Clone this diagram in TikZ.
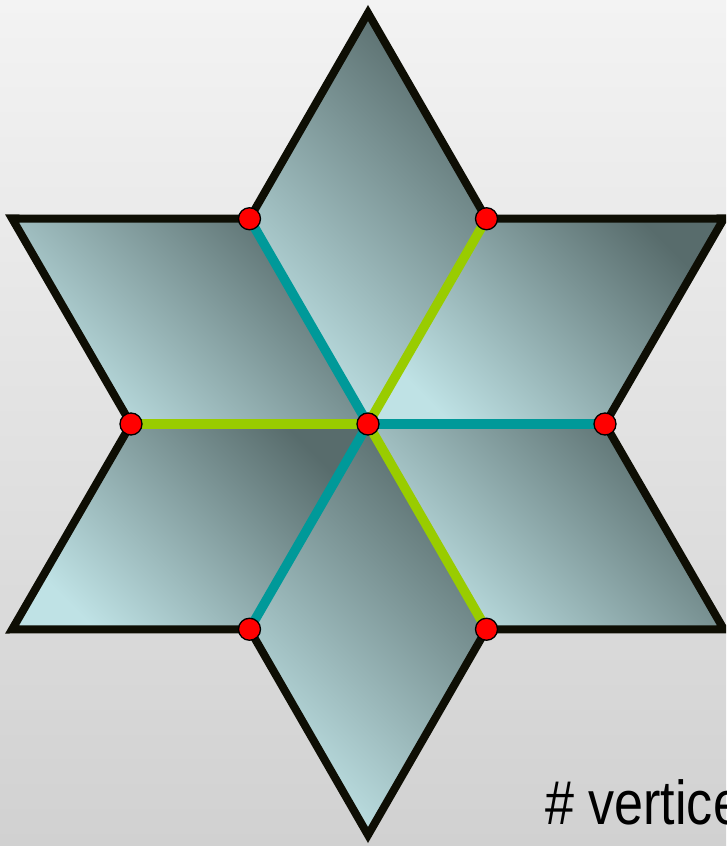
\documentclass[tikz,border=0pt]{standalone}
\usepackage{fontspec}
\setmainfont{Liberation Sans}
\newfontfamily\narrowfont[FakeStretch=0.84]{Liberation Sans}
\usetikzlibrary{calc}
\definecolor{bgtop}{HTML}{F3F3F3}
\definecolor{bgbot}{HTML}{D1D1D1}
\definecolor{rlight}{HTML}{BFE2E5}
\definecolor{rdark}{HTML}{586C6C}
\definecolor{outl}{HTML}{0E0E04}
\definecolor{edgeteal}{HTML}{009999}
\definecolor{edgelime}{HTML}{99CC00}
\begin{document}
\begin{tikzpicture}[x=1pt,y=1pt,
  rhombus/.style={shade, top color=rdark, bottom color=rlight, shading angle=-45},
  outline/.style={draw=outl, line width=8pt, line join=miter},
  tealedge/.style={draw=edgeteal, line width=9.5pt},
  limeedge/.style={draw=edgelime, line width=9.5pt},
  vdot/.style={circle, fill=red, draw=black, line width=1.3pt, inner sep=0pt, minimum size=22pt},
  label/.style={anchor=base west, inner sep=0pt, font=\narrowfont\fontsize{62}{74}\selectfont}]
\clip (0,0) rectangle (726,846);
\shade[top color=bgtop, bottom color=bgbot] (0,0) rectangle (726,846);
\coordinate (C) at (368,422);
\foreach \i/\a in {1/120,2/60,3/0,4/-60,5/-120,6/180}
  \coordinate (I\i) at ($(C)+(\a:237)$);
\foreach \i/\a in {1/90,2/30,3/-30,4/-90,5/-150,6/150}
  \coordinate (T\i) at ($(C)+(\a:411)$);
% rhombi
\path[rhombus] (C) -- (I1) -- (T1) -- (I2) -- cycle;
\path[rhombus] (C) -- (I2) -- (T2) -- (I3) -- cycle;
\path[rhombus] (C) -- (I3) -- (T3) -- (I4) -- cycle;
\path[rhombus] (C) -- (I4) -- (T4) -- (I5) -- cycle;
\path[rhombus] (C) -- (I5) -- (T5) -- (I6) -- cycle;
\path[rhombus] (C) -- (I6) -- (T6) -- (I1) -- cycle;
% outline
\draw[outline] (T1) -- (I2) -- (T2) -- (I3) -- (T3) -- (I4) -- (T4) -- (I5) -- (T5) -- (I6) -- (T6) -- (I1) -- cycle;
% inner edges
\draw[tealedge] (C) -- (I1);
\draw[tealedge] (C) -- (I3);
\draw[tealedge] (C) -- (I5);
\draw[limeedge] (C) -- (I2);
\draw[limeedge] (C) -- (I4);
\draw[limeedge] (C) -- (I6);
% vertices
\node[vdot] (dC) at (C) {};
\foreach \i in {1,...,6} \node[vdot] (d\i) at (I\i) {};
\node[label] (lbl) at (545,21) {\# vertice};
\end{tikzpicture}
\end{document}
